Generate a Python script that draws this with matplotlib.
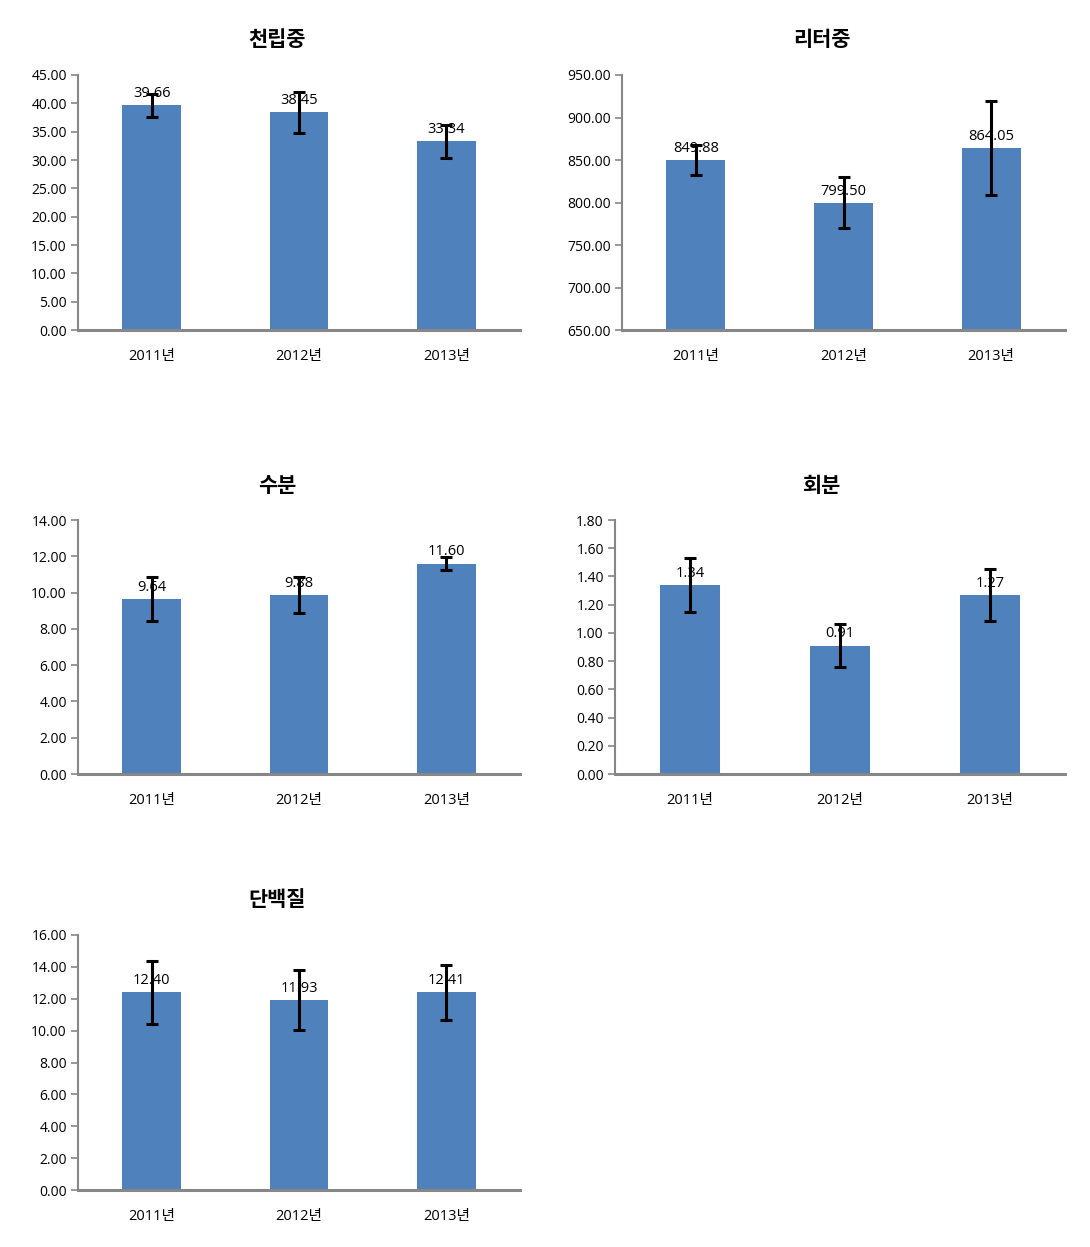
import matplotlib
matplotlib.use("Agg")
import matplotlib.pyplot as plt
from matplotlib.ticker import MultipleLocator, FormatStrFormatter

# digits in Open Sans, hangul falls back to Noto CJK
plt.rcParams['font.family'] = ['Open Sans', 'Noto Sans CJK KR']

years = ['2011년', '2012년', '2013년']

titles = ['천립중', '리터중', '수분', '회분', '단백질']
means = [
    [39.66, 38.45, 33.34],
    [849.88, 799.50, 864.05],
    [9.64, 9.88, 11.60],
    [1.34, 0.91, 1.27],
    [12.40, 11.93, 12.41],
]
errors = [
    [2.0, 3.6, 2.9],
    [17.5, 30.0, 55.0],
    [1.22, 1.0, 0.37],
    [0.19, 0.15, 0.185],
    [1.97, 1.86, 1.73],
]
ylims = [(0, 45), (650, 950), (0, 14), (0, 1.8), (0, 16)]
ysteps = [5, 50, 2, 0.2, 2]

W, H = 1090, 1247
# axes boxes in pixels: left, top, right, bottom
boxes = [
    (78, 75, 520, 330),
    (622, 75, 1065, 330),
    (78, 520, 520, 774),
    (615, 520, 1065, 774),
    (78, 935, 520, 1190),
]
# titles are centred over the whole chart area (excel style), not the plot box
title_pos = [(277, 40), (822, 40), (277, 486), (821, 486), (277, 900)]

bar_color = '#4F81BD'
axis_color = '#878787'

fig = plt.figure(figsize=(W / 100, H / 100), dpi=100)

for i in range(5):
    l, t, r, b = boxes[i]
    ax = fig.add_axes([l / W, 1 - b / H, (r - l) / W, (b - t) / H])
    x = range(len(years))
    base = ylims[i][0]
    ax.bar(x, [m - base for m in means[i]], bottom=base, width=0.4, color=bar_color, zorder=2)
    ax.errorbar(x, means[i], yerr=errors[i], fmt='none', ecolor='black',
                elinewidth=2.2, capsize=4, capthick=2.2, zorder=4)
    for xi, m in zip(x, means[i]):
        ax.annotate('%.2f' % m, (xi, m), xytext=(0, 3), textcoords='offset points',
                    ha='center', va='bottom', fontsize=10.5, color='black', zorder=3)
    ax.set_xlim(-0.5, 2.5)
    ax.set_ylim(*ylims[i])
    ax.yaxis.set_major_locator(MultipleLocator(ysteps[i]))
    ax.yaxis.set_major_formatter(FormatStrFormatter('%.2f'))
    ax.set_xticks(list(x))
    ax.set_xticklabels(years, fontsize=10.5)
    ax.tick_params(axis='x', length=0, pad=14)
    ax.tick_params(axis='y', length=5, width=1.2, color=axis_color, labelsize=10, pad=3)
    for s in ['top', 'right']:
        ax.spines[s].set_visible(False)
    ax.spines['left'].set_color(axis_color)
    ax.spines['left'].set_linewidth(1.5)
    ax.spines['bottom'].set_color(axis_color)
    ax.spines['bottom'].set_linewidth(2.2)

    tx, ty = title_pos[i]
    fig.text(tx / W, 1 - ty / H, titles[i], ha='center', va='center',
             fontsize=15, fontweight='bold', family=['Noto Sans CJK KR', 'DejaVu Sans'])

fig.savefig('out.png', dpi=100)
